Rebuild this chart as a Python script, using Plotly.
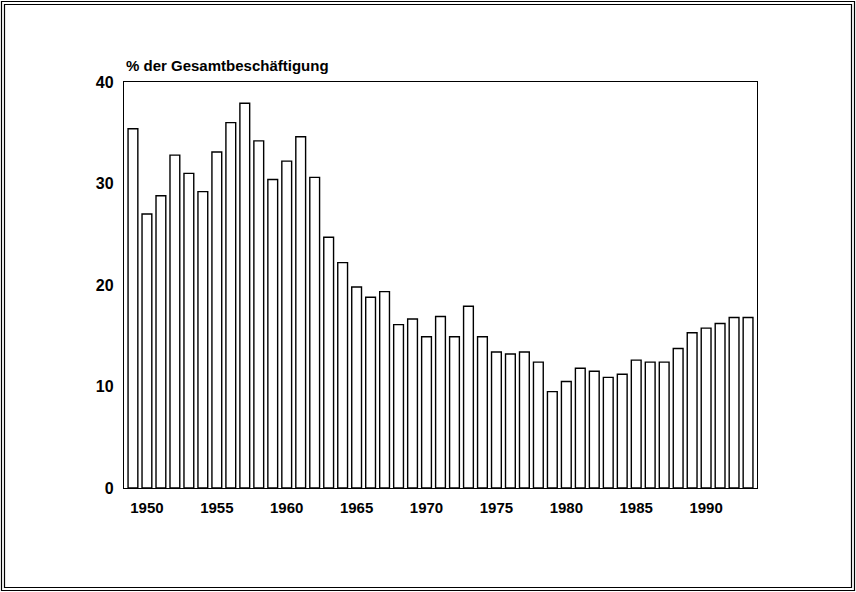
import plotly.graph_objects as go

years = list(range(1949, 1994))
values = [35.4, 27.0, 28.8, 32.8, 31.0, 29.2, 33.1, 36.0, 37.9, 34.2,
          30.4, 32.2, 34.6, 30.6, 24.7, 22.2, 19.8, 18.8, 19.35, 16.1,
          16.65, 14.9, 16.9, 14.9, 17.9, 14.9, 13.4, 13.2, 13.4, 12.4,
          9.5, 10.5, 11.8, 11.5, 10.9, 11.2, 12.6, 12.4, 12.4, 13.75,
          15.3, 15.75, 16.2, 16.8, 16.8]
x_ticks = [1950, 1955, 1960, 1965, 1970, 1975, 1980, 1985, 1990]
y_ticks = [0, 10, 20, 30, 40]
y_title = "% der Gesamtbeschäftigung"

W, H = 856, 592
L, R, T, B = 124, 757, 82, 488
FONT = "Arial, Liberation Sans, sans-serif"

def px(xp):
    return (xp - L) / (R - L)

def py(yp):
    return (B - yp) / (B - T)

fig = go.Figure(go.Bar(
    x=years, y=values, width=0.7,
    marker=dict(color="white", line=dict(color="black", width=1.4)),
))

shapes = [
    dict(type="rect", xref="paper", yref="paper",
         x0=px(1.5), x1=px(854.5), y0=py(1.5), y1=py(590.5),
         line=dict(color="black", width=1.2)),
    dict(type="rect", xref="paper", yref="paper",
         x0=px(4.5), x1=px(851.5), y0=py(4.5), y1=py(587.5),
         line=dict(color="black", width=1.2)),
]

fig.update_layout(
    width=W, height=H,
    margin=dict(l=L, r=W - R, t=T, b=H - B),
    paper_bgcolor="white", plot_bgcolor="white",
    showlegend=False,
    bargap=0.3,
    shapes=shapes,
    font=dict(family=FONT, color="black", size=15),
    annotations=[dict(
        text="<b>" + y_title + "</b>", xref="paper", yref="paper",
        x=0.0, y=py(65), xanchor="left", yanchor="middle",
        showarrow=False, font=dict(family=FONT, size=15, color="black"),
    )],
)
fig.update_xaxes(
    range=[1948.36, 1993.64], tickvals=x_ticks,
    ticktext=["<b>%d</b>" % v for v in x_ticks],
    showgrid=False, zeroline=False, showline=True, linecolor="black",
    linewidth=1.4, mirror=True, ticks="", ticklabelstandoff=6,
    tickfont=dict(family=FONT, size=15, color="black"),
)
fig.update_yaxes(
    range=[0, 40], tickvals=y_ticks,
    ticktext=["<b>%d</b>" % v for v in y_ticks],
    showgrid=False, zeroline=False, showline=True, linecolor="black",
    linewidth=1.4, mirror=True, ticks="", ticklabelstandoff=6,
    tickfont=dict(family=FONT, size=16, color="black"),
)

fig.write_html("out.html", config={"displayModeBar": False},
               post_script="document.body.style.margin='0';")
